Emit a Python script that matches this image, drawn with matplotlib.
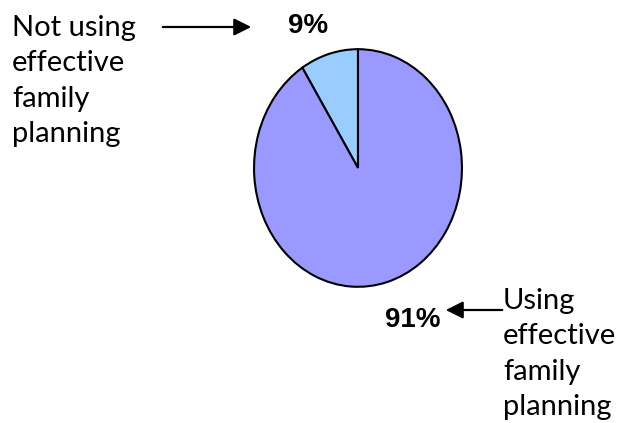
import matplotlib.pyplot as plt

# data
shares = [9, 91]
pct_labels = ["9%", "91%"]
colours = ["#99CCFF", "#9999FF"]
cat_labels = ["Not using\neffective\nfamily\nplanning", "Using\neffective\nfamily\nplanning"]

W, H = 618, 423
fig = plt.figure(figsize=(W / 100, H / 100), dpi=100)

# pie is an ellipse in the original, so the axes is not kept square
cx, cy, rx, ry = 358, 168, 105, 120
pax = fig.add_axes([(cx - rx) / W, 1 - (cy + ry) / H, 2 * rx / W, 2 * ry / H])
pax.pie(shares, colors=colours, startangle=90, counterclock=True,
        wedgeprops=dict(edgecolor="black", linewidth=1.5))
pax.set_aspect("auto")
pax.set_xlim(-1.01, 1.01)
pax.set_ylim(-1.01, 1.01)
pax.axis("off")

# overlay axes in pixel coords for the labels and arrows
ax = fig.add_axes([0, 0, 1, 1], zorder=-1)
ax.set_xlim(0, W)
ax.set_ylim(H, 0)
ax.axis("off")

# va=baseline puts the last line's baseline at y
lab_font = dict(family=["Lato", "DejaVu Sans"], fontsize=21, linespacing=1.45)
ax.text(12, 142, cat_labels[0], ha="left", va="baseline", **lab_font)
ax.text(503, 415, cat_labels[1], ha="left", va="baseline", **lab_font)

pct_font = dict(family=["Liberation Sans"], fontsize=20, fontweight="bold")
ax.text(308, 33, pct_labels[0], ha="center", va="baseline", **pct_font)
ax.text(413, 327, pct_labels[1], ha="center", va="baseline", **pct_font)

arrow = dict(arrowstyle="-|>", color="black", lw=1.6, mutation_scale=26)
ax.annotate("", xy=(254, 27), xytext=(160, 27), arrowprops=arrow)
ax.annotate("", xy=(443, 310), xytext=(505, 310), arrowprops=arrow)

fig.savefig("out.png", dpi=100)
